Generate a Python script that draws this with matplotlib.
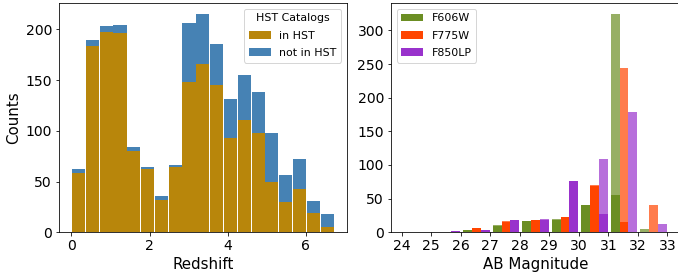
import numpy as np
import matplotlib
matplotlib.use("Agg")
import matplotlib.pyplot as plt

# ---- Left panel data: redshift histogram (stacked) ----
z_edges = np.linspace(0.01, 6.72, 20)
in_hst = [58, 184, 197, 196, 80, 62, 32, 64, 148, 166, 145, 93, 111, 98, 50, 30, 43, 19, 5]
not_in_hst = [4, 6, 6, 8, 4, 2, 4, 2, 58, 49, 41, 38, 44, 40, 48, 26, 29, 12, 13]

# ---- Right panel data: AB magnitude histogram (grouped) ----
mag_edges = np.linspace(24.03, 33.03, 10)
filters = ["F606W", "F775W", "F850LP"]
colors = ["olivedrab", "orangered", "darkorchid"]
all_counts = {
    "F606W": [0, 0, 4, 11, 17, 20, 41, 324, 5],
    "F775W": [1, 1, 7, 17, 18, 23, 71, 244, 41],
    "F850LP": [1, 2, 4, 18, 20, 76, 109, 179, 12],
}
sub_counts = {
    "F606W": [0, 0, 4, 10, 17, 18, 41, 55, 0],
    "F775W": [1, 1, 7, 15, 18, 23, 69, 15, 0],
    "F850LP": [1, 2, 4, 18, 18, 76, 27, 0, 0],
}

W, H = 678, 276
fig = plt.figure(figsize=(W / 72, H / 72), dpi=72)
ax1 = fig.add_axes([59 / W, 1 - 232.3 / H, (346.7 - 59) / W, (232.3 - 3.3) / H])
ax2 = fig.add_axes([391 / W, 1 - 232.3 / H, (680 - 391) / W, (232.3 - 3.3) / H])

z_centers = 0.5 * (z_edges[:-1] + z_edges[1:])
ax1.hist([z_centers, z_centers], bins=z_edges, weights=[in_hst, not_in_hst],
         stacked=True, rwidth=0.95, color=["darkgoldenrod", "steelblue"],
         label=["in HST", "not in HST"])
ax1.set_xlabel("Redshift", fontsize=15)
ax1.set_ylabel("Counts", fontsize=15)
ax1.set_xticks([0, 2, 4, 6])
ax1.set_yticks([0, 50, 100, 150, 200])
ax1.tick_params(labelsize=14)
ax1.legend(title="HST Catalogs", fontsize=11, title_fontsize=11, loc="upper right",
           labelspacing=0.68)

m_centers = 0.5 * (mag_edges[:-1] + mag_edges[1:])
ax2.hist([m_centers] * 3, bins=mag_edges, weights=[all_counts[f] for f in filters],
         rwidth=0.9, color=colors, alpha=0.7)
ax2.hist([m_centers] * 3, bins=mag_edges, weights=[sub_counts[f] for f in filters],
         rwidth=0.9, color=colors, label=filters)
ax2.set_xlabel("AB Magnitude", fontsize=15)
ax2.set_xticks(list(range(24, 34)))
ax2.set_yticks([0, 50, 100, 150, 200, 250, 300])
ax2.tick_params(labelsize=14)
ax2.legend(fontsize=11, loc="upper left", labelspacing=0.68)

fig.savefig("out.png", dpi=72)
